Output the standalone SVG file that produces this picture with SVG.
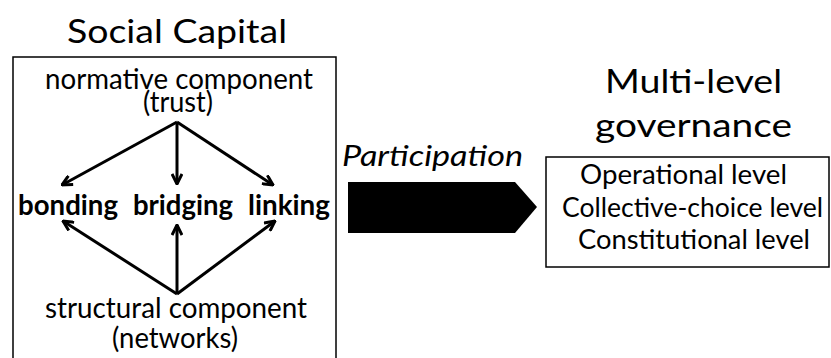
<svg xmlns="http://www.w3.org/2000/svg" width="831" height="358" viewBox="0 0 831 358">
<style>
text{font-family:Lato,"Open Sans","Liberation Sans",sans-serif;fill:#000}
.t{font-size:33px}
.n{font-size:28px}
.b{font-size:28px;font-weight:bold}
.l{font-size:26px}
.i{font-size:28px;font-style:italic}
.box{fill:#fff;stroke:#000;stroke-width:1.5}
.arr{stroke:#000;stroke-width:3;fill:none;marker-end:url(#h)}
</style>
<defs>
<marker id="h" viewBox="0 0 12 12" refX="11" refY="6" markerWidth="12" markerHeight="12" markerUnits="userSpaceOnUse" orient="auto">
<path d="M1,1 L11,6 L1,11" fill="none" stroke="#000" stroke-width="3" stroke-linejoin="miter"/>
</marker>
</defs>
<rect width="831" height="358" fill="#fff"/>
<g id="social-capital">
<text class="t" x="67" y="43" textLength="220" lengthAdjust="spacingAndGlyphs">Social Capital</text>
<rect class="box" x="13" y="57" width="323" height="310"/>
</g>
<g id="normative">
<text class="n" x="45" y="89" textLength="268" lengthAdjust="spacingAndGlyphs">normative component</text>
<text class="n" x="143" y="112" textLength="70" lengthAdjust="spacingAndGlyphs">(trust)</text>
</g>
<g id="bonding"><text class="b" x="18" y="215" textLength="100" lengthAdjust="spacingAndGlyphs">bonding</text></g>
<g id="bridging"><text class="b" x="133" y="215" textLength="100" lengthAdjust="spacingAndGlyphs">bridging</text></g>
<g id="linking"><text class="b" x="248" y="215" textLength="82" lengthAdjust="spacingAndGlyphs">linking</text></g>
<g id="structural">
<text class="n" x="45" y="318" textLength="262" lengthAdjust="spacingAndGlyphs">structural component</text>
<text class="n" x="112" y="348" textLength="126" lengthAdjust="spacingAndGlyphs">(networks)</text>
</g>
<g id="governance">
<text class="t" x="605" y="93" textLength="177" lengthAdjust="spacingAndGlyphs">Multi-level</text>
<text class="t" x="595" y="137" textLength="197" lengthAdjust="spacingAndGlyphs">governance</text>
<rect class="box" x="546" y="157" width="283" height="110"/>
<text class="l" x="580" y="184" textLength="207" lengthAdjust="spacingAndGlyphs">Operational level</text>
<text class="l" x="562" y="217" textLength="261" lengthAdjust="spacingAndGlyphs">Collective-choice level</text>
<text class="l" x="578" y="249" textLength="232" lengthAdjust="spacingAndGlyphs">Constitutional level</text>
</g>
<g id="participation">
<text class="i" x="342" y="166" textLength="181" lengthAdjust="spacingAndGlyphs">Participation</text>
<polygon points="348,182 515,182 537,207 515,233 348,233" fill="#000"/>
</g>
<g id="connectors">
<line class="arr" x1="177" y1="122" x2="62" y2="185"/>
<line class="arr" x1="177" y1="122" x2="177" y2="184"/>
<line class="arr" x1="177" y1="122" x2="273" y2="185"/>
<line class="arr" x1="177" y1="294" x2="63" y2="221"/>
<line class="arr" x1="177" y1="294" x2="177" y2="225"/>
<line class="arr" x1="177" y1="294" x2="275" y2="221"/>
</g>
</svg>
